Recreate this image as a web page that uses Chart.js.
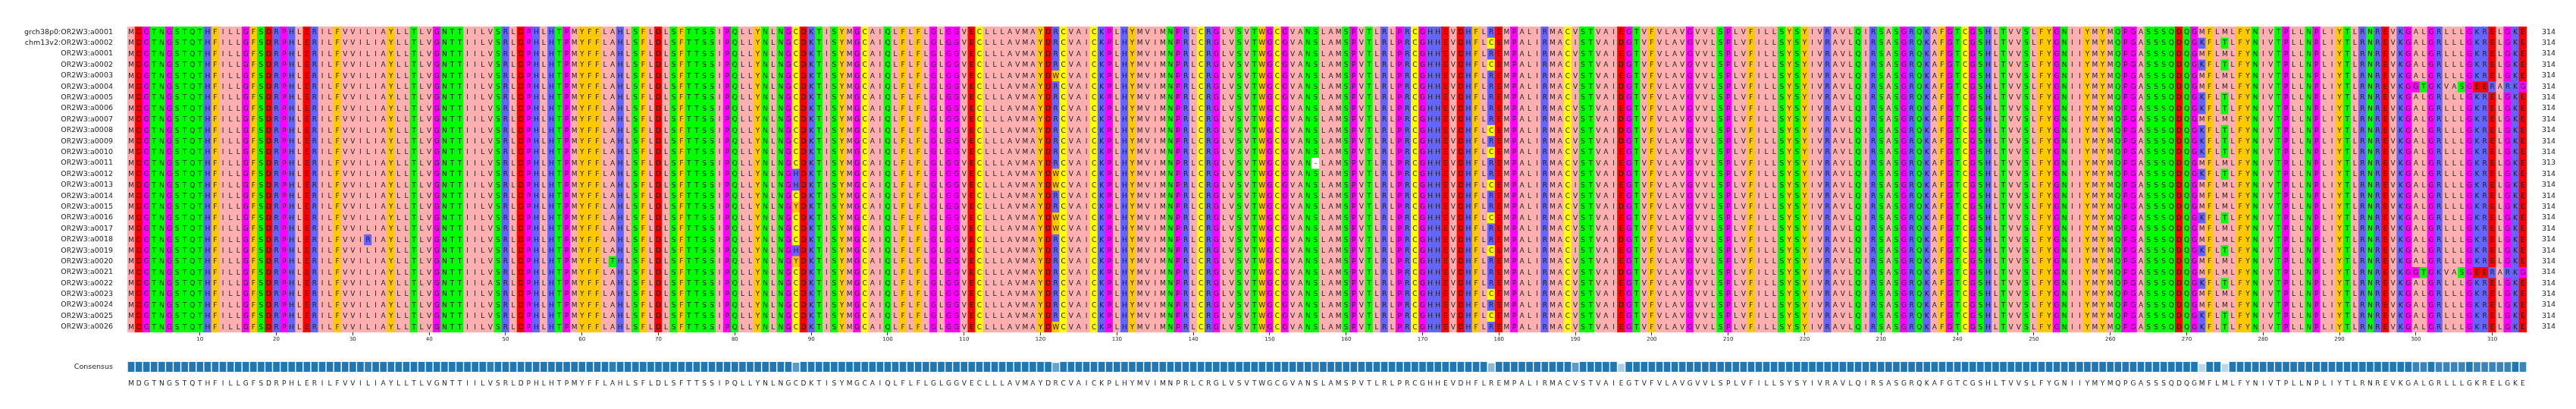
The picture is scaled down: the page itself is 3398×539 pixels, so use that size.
<!DOCTYPE html>
<html><head><meta charset="utf-8">
<script src="https://cdn.jsdelivr.net/npm/chart.js@4.4.1/dist/chart.umd.min.js"></script>
<style>html,body{margin:0;padding:0;background:#fff;}canvas{position:absolute;left:0;}</style>
</head><body>
<canvas id="msa" width="3398" height="460" style="top:0"></canvas>
<canvas id="cons" width="3398" height="79" style="top:460px"></canvas>
<script>
const rowNames = ["grch38p0:OR2W3:a0001","chm13v2:OR2W3:a0002","OR2W3:a0001","OR2W3:a0002","OR2W3:a0003","OR2W3:a0004","OR2W3:a0005","OR2W3:a0006","OR2W3:a0007","OR2W3:a0008","OR2W3:a0009","OR2W3:a0010","OR2W3:a0011","OR2W3:a0012","OR2W3:a0013","OR2W3:a0014","OR2W3:a0015","OR2W3:a0016","OR2W3:a0017","OR2W3:a0018","OR2W3:a0019","OR2W3:a0020","OR2W3:a0021","OR2W3:a0022","OR2W3:a0023","OR2W3:a0024","OR2W3:a0025","OR2W3:a0026"];
const refSeq = "MDGTNGSTQTHFILLGFSDRPHLERILFVVILIAYLLTLVGNTTIILVSRLDPHLHTPMYFFLAHLSFLDLSFTTSSIPQLLYNLNGCDKTISYMGCAIQLFLFLGLGGVECLLLAVMAYDRCVAICKPLHYMVIMNPRLCRGLVSVTWGCGVANSLAMSPVTLRLPRCGHHEVDHFLREMPALIRMACVSTVAIEGTVFVLAVGVVLSPLVFILLSYSYIVRAVLQIRSASGRQKAFGTCGSHLTVVSLFYGNIIYMYMQPGASSSQDQGMFLMLFYNIVTPLLNPLIYTLRNREVKGALGRLLLGKRELGKE";
// [position (1-based), residue, rows]
const variants = [
  [32,"R",[19]],
  [48,"A",[23]],
  [64,"T",[21]],
  [88,"H",[13,14,20]],
  [88,"Y",[16,21]],
  [122,"W",[4,13,14,17,18,27]],
  [156,"-",[12]],
  [179,"C",[1,3,9,11,14,17,20,24,26]],
  [190,"I",[1,3,6,14,20]],
  [196,"D",[1,3,5,6,8,9,10,13,16,19,22,25]],
  [272,"K",[1,3,6,7,9,10,11,13,17,20,23,26,27]],
  [275,"T",[1,3,6,7,9,10,11,13,17,20,23,26,27]]
];
const frameshiftStart = 300;
const frameshiftTail = "GTGKVASGEERARKG";
const frameshiftRows = [5,22];
const tickEvery = 10;

const zappo = {I:"#ffafaf",L:"#ffafaf",V:"#ffafaf",A:"#ffafaf",M:"#ffafaf",F:"#ffc800",W:"#ffc800",Y:"#ffc800",K:"#6464ff",R:"#6464ff",H:"#6464ff",D:"#ff0000",E:"#ff0000",S:"#00ff00",T:"#00ff00",N:"#00ff00",Q:"#00ff00",P:"#ff00ff",G:"#ff00ff",C:"#ffff00","-":"#ffffff"};

const N = refSeq.length, R = rowNames.length;
const rows = rowNames.map(()=>refSeq.split(""));
variants.forEach(([p,a,rs])=>rs.forEach(r=>rows[r][p-1]=a));
frameshiftRows.forEach(r=>{for(let i=0;i<frameshiftTail.length;i++) rows[r][frameshiftStart-1+i]=frameshiftTail[i];});
const lengths = rows.map(s=>s.filter(c=>c!=="-").length);
const positions = Array.from({length:N},(_,i)=>String(i+1));

// consensus
const consChar=[], consFrac=[];
for(let c=0;c<N;c++){const cnt={};rows.forEach(s=>cnt[s[c]]=(cnt[s[c]]||0)+1);
  let best=null,bv=0;for(const k in cnt){if(cnt[k]>bv){bv=cnt[k];best=k;}}
  consChar.push(best);consFrac.push(bv/R);}
const consHeight = consFrac.map(f=>0.5+0.5*f);
const consColor = consFrac.map(f=>{const a=Math.max(0.3,0.25+0.75*(f-0.5)/0.5);return `rgba(31,119,180,${a})`;});

const FONT="DejaVu Sans";
const rowTicks = axis=>{axis.ticks=rowNames.map((_,i)=>({value:i+0.5}));};

const letters = {id:"letters",afterDatasetsDraw(chart){
  const ctx=chart.ctx,xs=chart.scales.x,ys=chart.scales.y;
  ctx.save();ctx.font=`9px "${FONT}"`;ctx.textAlign="center";ctx.textBaseline="middle";ctx.fillStyle="#1a1a1a";
  for(let r=0;r<R;r++){const y=ys.getPixelForValue(r+0.5);
    for(let c=0;c<N;c++){ctx.fillText(rows[r][c],xs.getPixelForValue(c),y+0.5);}}
  ctx.restore();}};

new Chart(document.getElementById("msa"),{
  type:"bar",
  data:{labels:positions,datasets:rows.map((s,r)=>({
    data:s.map(()=>[r,r+1]),backgroundColor:s.map(ch=>zappo[ch]||"#ffffff"),
    borderWidth:0,barPercentage:1,categoryPercentage:1,grouped:false}))},
  options:{responsive:false,animation:false,devicePixelRatio:1,
    layout:{padding:{top:35,left:0,right:0,bottom:0}},
    plugins:{legend:{display:false},tooltip:{enabled:false}},
    scales:{
      x:{type:"category",offset:true,afterFit:s=>{s.height=22;},
        grid:{offset:false,drawOnChartArea:false,drawTicks:true,tickLength:4,color:c=>((c.index+1)%tickEvery===0)?"#333":"rgba(0,0,0,0)"},
        border:{display:false},
        ticks:{autoSkip:false,maxRotation:0,padding:1,color:"#222",font:{family:FONT,size:7},callback:(v,i)=>((i+1)%tickEvery===0)?String(i+1):""}},
      y:{type:"linear",min:0,max:R,reverse:true,position:"left",afterBuildTicks:rowTicks,afterFit:s=>{s.width=168;},
        grid:{display:false},border:{display:false},
        ticks:{padding:11,color:"#222",font:{family:FONT,size:9.5},callback:v=>rowNames[Math.floor(v)]}},
      y2:{type:"linear",min:0,max:R,reverse:true,position:"right",afterBuildTicks:rowTicks,afterFit:s=>{s.width=65;},
        grid:{display:false},border:{display:false},
        ticks:{padding:12,color:"#222",font:{family:FONT,size:9.5},callback:v=>String(lengths[Math.floor(v)])}}
    }},
  plugins:[letters]});

new Chart(document.getElementById("cons"),{
  type:"bar",
  data:{labels:consChar,datasets:[{data:consHeight,backgroundColor:consColor,borderWidth:0,barPercentage:0.86,categoryPercentage:1}]},
  options:{responsive:false,animation:false,devicePixelRatio:1,
    layout:{padding:{top:2,left:0,right:65,bottom:0}},
    plugins:{legend:{display:false},tooltip:{enabled:false}},
    scales:{
      x:{type:"category",offset:true,afterFit:s=>{s.height=49;},grid:{display:false},border:{display:false},
        ticks:{autoSkip:false,maxRotation:0,padding:2,color:"#222",font:{family:FONT,size:9}}},
      y:{type:"linear",min:0,max:1,afterBuildTicks:a=>{a.ticks=[{value:0.5}];},afterFit:s=>{s.width=168;},
        grid:{display:false},border:{display:false},
        ticks:{padding:11,color:"#222",font:{family:FONT,size:9.5},callback:()=>"Consensus"}}
    }}});
</script>
</body></html>
